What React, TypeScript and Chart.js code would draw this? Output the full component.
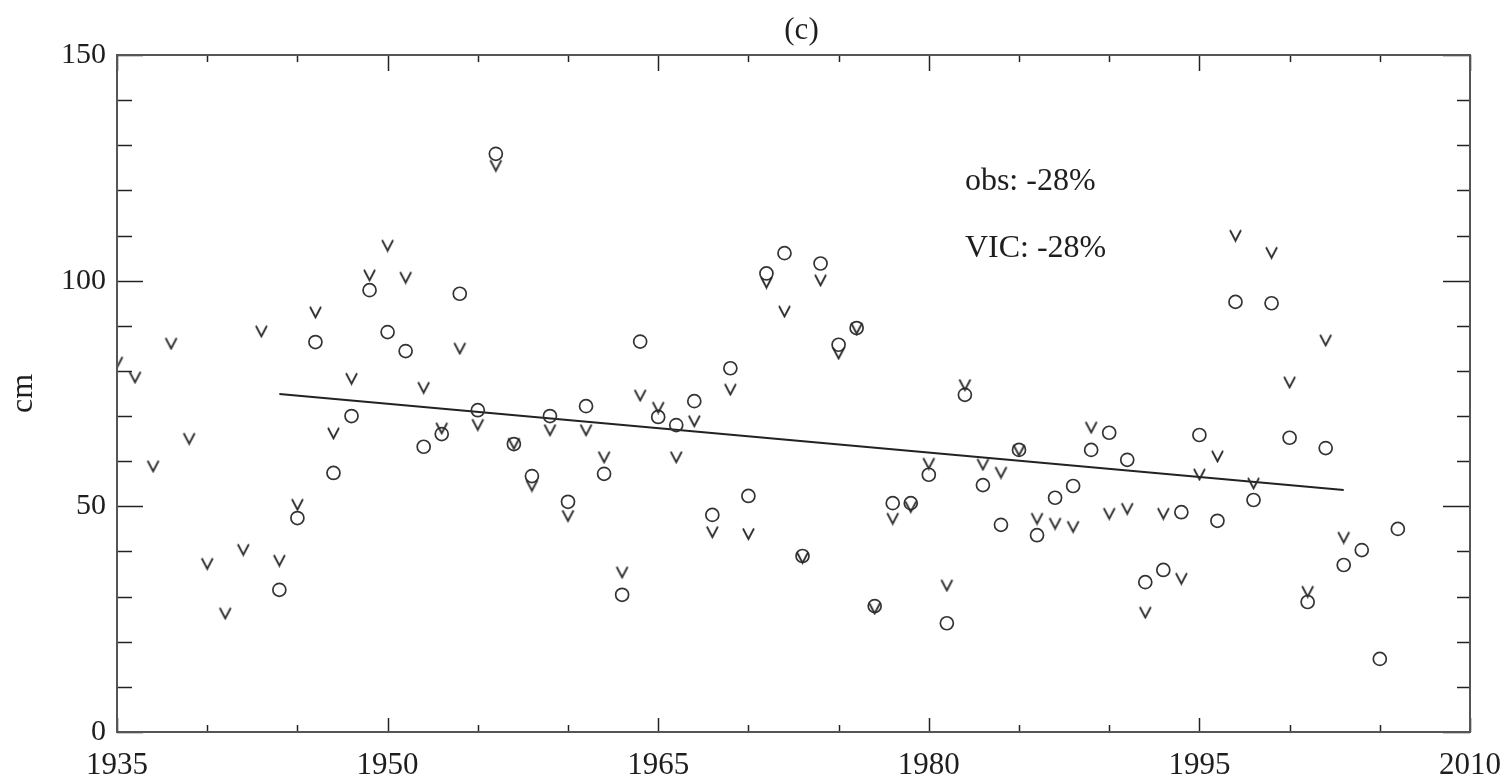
import React, { useEffect, useRef } from "react";
import { Chart, registerables } from "chart.js";

Chart.register(...registerables);

// ---- data ----
const vicYears = [
  1935, 1936, 1937, 1938, 1939, 1940, 1941, 1942, 1943, 1944, 1945, 1946, 1947, 1948,
  1949, 1950, 1951, 1952, 1953, 1954, 1955, 1956, 1957, 1958, 1959, 1960, 1961, 1962,
  1963, 1964, 1965, 1966, 1967, 1968, 1969, 1970, 1971, 1972, 1973, 1974, 1975, 1976,
  1977, 1978, 1979, 1980, 1981, 1982, 1983, 1984, 1985, 1986, 1987, 1988, 1989, 1990,
  1991, 1992, 1993, 1994, 1995, 1996, 1997, 1998, 1999, 2000, 2001, 2002, 2003,
];
const vicValues = [
  82, 78.7, 59, 86.2, 65.1, 37.4, 26.4, 40.5, 88.9, 38.1, 50.5, 93.1, 66.3, 78.4,
  101.3, 107.9, 100.8, 76.4, 67.4, 85.1, 68.2, 125.6, 64, 54.7, 67, 48, 67, 61,
  35.5, 74.7, 72, 61, 69, 44.4, 76, 44, 99.7, 93.3, 38.7, 100.2, 84, 89.5,
  27.5, 47.4, 50, 59.6, 32.6, 77, 59.4, 57.6, 62.5, 47.4, 46.3, 45.6, 67.6, 48.5,
  49.6, 26.6, 48.5, 34.1, 57.2, 61.2, 110.1, 55.2, 106.3, 77.6, 31.2, 86.9, 43.2,
];

const obsYears = [
  1944, 1945, 1946, 1947, 1948, 1949, 1950, 1951, 1952, 1953, 1954, 1955, 1956, 1957,
  1958, 1959, 1960, 1961, 1962, 1963, 1964, 1965, 1966, 1967, 1968, 1969, 1970, 1971,
  1972, 1973, 1974, 1975, 1976, 1977, 1978, 1979, 1980, 1981, 1982, 1983, 1984, 1985,
  1986, 1987, 1988, 1989, 1990, 1991, 1992, 1993, 1994, 1995, 1996, 1997, 1998, 1999,
  2000, 2001, 2002, 2003, 2004, 2005, 2006,
];
const obsValues = [
  31.5, 47.4, 86.4, 57.4, 70.0, 97.9, 88.6, 84.4, 63.2, 66, 97.1, 71.3, 128.1, 63.8,
  56.7, 70, 51, 72.2, 57.2, 30.4, 86.5, 69.8, 68, 73.3, 48.1, 80.6, 52.3, 101.6,
  106.1, 39, 103.8, 85.8, 89.5, 27.9, 50.7, 50.7, 57, 24.1, 74.7, 54.7, 45.9, 62.5,
  43.6, 51.9, 54.5, 62.5, 66.3, 60.3, 33.2, 35.9, 48.7, 65.8, 46.8, 95.3, 51.4, 95,
  65.2, 28.8, 62.9, 37, 40.3, 16.2, 45,
];

const trendYears = [1944, 2003];
const trendValues = [74.9, 53.6];

const xTicks = [1935, 1950, 1965, 1980, 1995, 2010];
const yTicks = [0, 50, 100, 150];
const xMinorStep = 5;
const yMinorStep = 10;

const titleText = "(c)";
const yAxisTitle = "cm";
const annotations = ["obs: -28%", "VIC: -28%"];

const FONT = '"Liberation Serif", "Times New Roman", serif';

function makeVMarker(): HTMLCanvasElement {
  const c = document.createElement("canvas");
  c.width = 15;
  c.height = 15;
  const g = c.getContext("2d")!;
  g.strokeStyle = "#2a2a2a";
  g.lineWidth = 1.8;
  g.lineJoin = "miter";
  g.beginPath();
  g.moveTo(2, 2.5);
  g.lineTo(7.5, 13);
  g.lineTo(13, 2.5);
  g.stroke();
  return c;
}

const framePlugin = {
  id: "frameTicks",
  afterDatasetsDraw(chart: any) {
    const { ctx, chartArea: a, scales } = chart;
    const x = scales.x;
    const y = scales.y;
    const line = (x1: number, y1: number, x2: number, y2: number) => {
      ctx.beginPath();
      ctx.moveTo(x1, y1);
      ctx.lineTo(x2, y2);
      ctx.stroke();
    };
    ctx.save();
    ctx.strokeStyle = "#222";
    ctx.lineWidth = 1.5;
    const xmin = xTicks[0];
    const xmax = xTicks[xTicks.length - 1];
    for (let v = xmin; v <= xmax; v += xMinorStep) {
      const px = Math.round(x.getPixelForValue(v)) + 0.5;
      const major = xTicks.includes(v);
      const lenB = major ? 14 : 7;
      const lenT = major ? 16 : 7;
      line(px, a.bottom, px, a.bottom - lenB);
      line(px, a.top, px, a.top + lenT);
    }
    const ymin = yTicks[0];
    const ymax = yTicks[yTicks.length - 1];
    for (let v = ymin; v <= ymax; v += yMinorStep) {
      const py = Math.round(y.getPixelForValue(v)) + 0.5;
      const major = yTicks.includes(v);
      const len = major ? 26 : 15;
      const lenR = major ? 27 : 13;
      line(a.left, py, a.left + len, py);
      line(a.right, py, a.right - lenR, py);
    }
    ctx.strokeStyle = "#555";
    ctx.lineWidth = 2;
    ctx.strokeRect(a.left, a.top, a.right - a.left, a.bottom - a.top);

    // texts
    ctx.fillStyle = "#1e1e1e";
    ctx.font = `31px ${FONT}`;
    ctx.textAlign = "center";
    ctx.textBaseline = "middle";
    ctx.fillText(titleText, (a.left + a.right) / 2 + 8, 31);

    ctx.save();
    ctx.translate(24, (a.top + a.bottom) / 2);
    ctx.rotate(-Math.PI / 2);
    ctx.font = `32px ${FONT}`;
    ctx.fillText(yAxisTitle, 0, 0);
    ctx.restore();

    ctx.font = `32px ${FONT}`;
    ctx.textAlign = "left";
    const tx = x.getPixelForValue(1982);
    ctx.fillText(annotations[0], tx, y.getPixelForValue(122));
    ctx.fillText(annotations[1], tx, y.getPixelForValue(107));
    ctx.restore();
  },
};

export default function App() {
  const ref = useRef<HTMLCanvasElement | null>(null);

  useEffect(() => {
    if (!ref.current) return;
    const vMarker = makeVMarker();
    const chart = new Chart(ref.current, {
      type: "scatter",
      data: {
        datasets: [
          {
            label: "VIC",
            data: vicYears.map((yr, i) => ({ x: yr, y: vicValues[i] })),
            pointStyle: vMarker as any,
            pointRadius: 7,
            showLine: false,
          },
          {
            label: "obs",
            data: obsYears.map((yr, i) => ({ x: yr, y: obsValues[i] })),
            pointStyle: "circle",
            pointRadius: 6.5,
            borderWidth: 1.7,
            borderColor: "#333",
            backgroundColor: "rgba(0,0,0,0)",
            showLine: false,
          },
          {
            type: "line" as any,
            label: "trend",
            data: trendYears.map((yr, i) => ({ x: yr, y: trendValues[i] })),
            borderColor: "#222",
            borderWidth: 2,
            pointRadius: 0,
            showLine: true,
            fill: false,
          },
        ],
      },
      options: {
        responsive: false,
        animation: false,
        devicePixelRatio: 1,
        layout: { padding: { left: 0, right: 40, top: 55, bottom: 0 } },
        plugins: {
          legend: { display: false },
          tooltip: { enabled: false },
          title: { display: false },
        },
        scales: {
          x: {
            type: "linear",
            min: xTicks[0],
            max: xTicks[xTicks.length - 1],
            grid: { display: false, drawTicks: false },
            border: { display: false },
            afterBuildTicks: (s: any) => {
              s.ticks = xTicks.map((v) => ({ value: v }));
            },
            afterFit: (s: any) => {
              s.height = 47;
              s.paddingLeft = 0;
              s.paddingRight = 0;
            },
            ticks: {
              color: "#1e1e1e",
              font: { family: FONT, size: 31 },
              padding: 15,
              maxRotation: 0,
              autoSkip: false,
              callback: (v: any) => String(v),
            },
          },
          y: {
            type: "linear",
            min: yTicks[0],
            max: yTicks[yTicks.length - 1],
            grid: { display: false, drawTicks: false },
            border: { display: false },
            afterBuildTicks: (s: any) => {
              s.ticks = yTicks.map((v) => ({ value: v }));
            },
            afterFit: (s: any) => {
              s.width = 117;
              s.paddingTop = 0;
              s.paddingBottom = 0;
            },
            ticks: {
              color: "#1e1e1e",
              font: { family: FONT, size: 30 },
              padding: 11,
              autoSkip: false,
              callback: (v: any) => String(v),
            },
          },
        },
      },
      plugins: [framePlugin],
    });
    return () => chart.destroy();
  }, []);

  return (
    <div style={{ position: "absolute", left: 0, top: 0, width: 1510, height: 779, background: "#fff" }}>
      <canvas ref={ref} width={1510} height={779} style={{ width: 1510, height: 779 }} />
    </div>
  );
}
